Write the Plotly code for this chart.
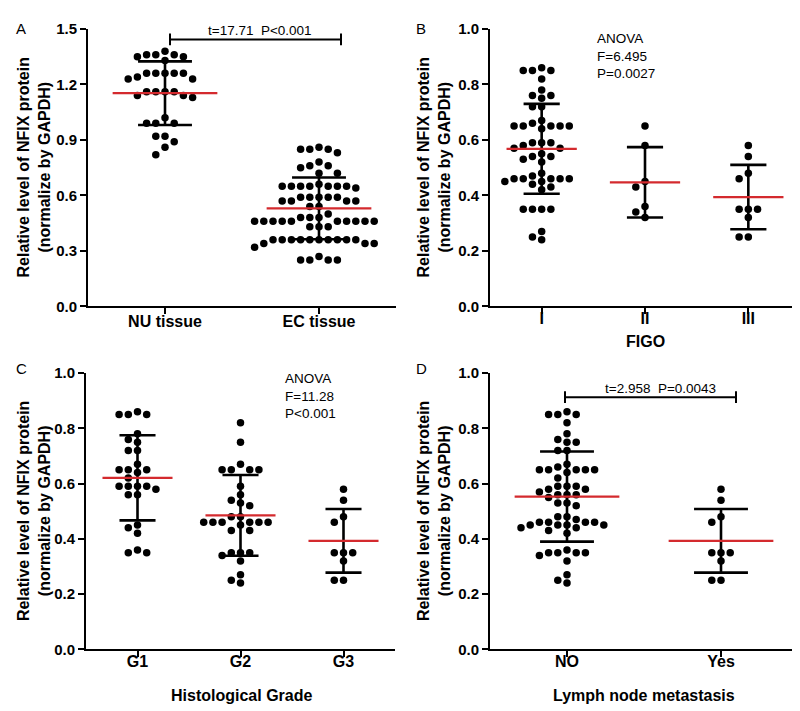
import numpy as np
import plotly.graph_objects as go

# ---------------- data ----------------
tissue_labels = ["NU tissue", "EC tissue"]
nu_tissue = [1.38, 1.36, 1.36, 1.36, 1.35, 1.35, 1.33, 1.26, 1.26, 1.26, 1.26, 1.26,
             1.24, 1.23, 1.23, 1.16, 1.16, 1.16, 1.16, 1.14, 1.14, 1.13, 1.02,
             0.99, 0.99, 0.99, 0.92, 0.92, 0.89, 0.86, 0.82]
ec_tissue = [0.86, 0.85, 0.85, 0.85, 0.83, 0.78, 0.76, 0.76, 0.75, 0.72, 0.72, 0.66,
             0.65, 0.65, 0.65, 0.65, 0.65, 0.65, 0.65, 0.64,
             0.59, 0.59, 0.59, 0.59, 0.59, 0.57, 0.57, 0.57, 0.57, 0.54, 0.54, 0.50,
             0.48, 0.48, 0.48, 0.46, 0.46, 0.46, 0.46, 0.46, 0.46, 0.46, 0.46, 0.46, 0.46,
             0.43, 0.43, 0.43, 0.36, 0.36, 0.36, 0.36, 0.36, 0.36, 0.36, 0.36, 0.36, 0.36,
             0.34, 0.34, 0.34, 0.32, 0.27, 0.25, 0.25, 0.25, 0.25]
tissue_mean = [1.153, 0.530]
tissue_sd = [0.172, 0.167]

figo_labels = ["I", "II", "III"]
figo_I = [0.86, 0.85, 0.85, 0.85, 0.82, 0.78, 0.76, 0.76, 0.75, 0.72, 0.72, 0.67, 0.66,
          0.65, 0.65, 0.65, 0.65, 0.65, 0.64, 0.59, 0.59, 0.59, 0.58, 0.57, 0.57, 0.55,
          0.54, 0.54, 0.53, 0.52, 0.48, 0.47, 0.46, 0.46, 0.46, 0.46, 0.46, 0.45, 0.45,
          0.44, 0.43, 0.42, 0.35, 0.35, 0.35, 0.35, 0.27, 0.25, 0.24]
figo_II = [0.65, 0.58, 0.45, 0.43, 0.36, 0.34, 0.32]
figo_III = [0.58, 0.54, 0.48, 0.46, 0.35, 0.35, 0.35, 0.32, 0.25, 0.25]
figo_mean = [0.568, 0.447, 0.394]
figo_sd = [0.162, 0.127, 0.116]

grade_labels = ["G1", "G2", "G3"]
grade_G1 = [0.86, 0.85, 0.85, 0.85, 0.78, 0.76, 0.75, 0.72, 0.72, 0.67, 0.65, 0.65, 0.65,
            0.64, 0.62, 0.59, 0.59, 0.59, 0.59, 0.58, 0.56, 0.56, 0.45, 0.44, 0.42,
            0.36, 0.35, 0.35]
grade_G2 = [0.82, 0.75, 0.67, 0.65, 0.65, 0.65, 0.65, 0.59, 0.56, 0.54, 0.53, 0.52,
            0.48, 0.48, 0.46, 0.46, 0.46, 0.46, 0.46, 0.46, 0.45, 0.43, 0.43,
            0.35, 0.35, 0.35, 0.34, 0.32, 0.27, 0.25, 0.24]
grade_G3 = [0.58, 0.54, 0.48, 0.46, 0.35, 0.35, 0.35, 0.32, 0.25, 0.25]
grade_mean = [0.621, 0.485, 0.393]
grade_sd = [0.154, 0.146, 0.115]

lymph_labels = ["NO", "Yes"]
lymph_no = [0.86, 0.85, 0.85, 0.85, 0.82, 0.78, 0.76, 0.75, 0.75, 0.72, 0.72, 0.67, 0.66,
            0.65, 0.65, 0.65, 0.65, 0.65, 0.64, 0.62, 0.59, 0.59, 0.59, 0.58, 0.58, 0.57,
            0.56, 0.56, 0.56, 0.55, 0.53, 0.53, 0.52, 0.48, 0.48, 0.47, 0.46, 0.46, 0.46,
            0.46, 0.45, 0.45, 0.45, 0.45, 0.44, 0.44, 0.43, 0.42, 0.36, 0.35, 0.35, 0.35,
            0.35, 0.34, 0.32, 0.27, 0.25, 0.24]
lymph_yes = [0.58, 0.54, 0.48, 0.46, 0.35, 0.35, 0.35, 0.32, 0.25, 0.25]
lymph_mean = [0.553, 0.393]
lymph_sd = [0.163, 0.115]

y_title = "Relative level of NFIX protein<br>(normalize by GAPDH)"

# ---------------- layout geometry ----------------
W, H = 800, 711
def PX(px): return px / W
def PY(py): return 1 - py / H

RED = "#d42a2e"
FONT = "Arial, Liberation Sans, sans-serif"

fig = go.Figure()

def swarm(values, ppu_x, ppu_y, D=7.6, step=9.2):
    vals = np.asarray(values, float)
    order = np.argsort(-vals, kind="stable")
    placed = []
    off = np.zeros(len(vals))
    cands = [0]
    for k in range(1, 30):
        cands += [-k, k]
    for i in order:
        yp = vals[i] * ppu_y
        for k in cands:
            xp = k * step
            if all((xp - a) ** 2 + (yp - b) ** 2 >= D * D for a, b in placed):
                break
        placed.append((xp, yp))
        off[i] = xp / ppu_x
    return off

def add_panel(xa, ya, groups, means, sds, ppu_x, ppu_y):
    for gi, vals in enumerate(groups):
        off = swarm(vals, ppu_x, ppu_y)
        fig.add_trace(go.Scatter(x=gi + off, y=vals, mode="markers", xaxis=xa, yaxis=ya,
                                 marker=dict(color="black", size=7.5), showlegend=False,
                                 hoverinfo="skip", cliponaxis=False))
    for gi, (m, s) in enumerate(zip(means, sds)):
        c = 0.175
        fig.add_trace(go.Scatter(
            x=[gi, gi, None, gi - c, gi + c, None, gi - c, gi + c],
            y=[m - s, m + s, None, m + s, m + s, None, m - s, m - s],
            mode="lines", line=dict(color="black", width=2.6), xaxis=xa, yaxis=ya,
            showlegend=False, hoverinfo="skip", cliponaxis=False))
    for gi, m in enumerate(means):
        fig.add_trace(go.Scatter(x=[gi - 0.34, gi + 0.34], y=[m, m], mode="lines",
                                 line=dict(color=RED, width=2.2), xaxis=xa, yaxis=ya,
                                 showlegend=False, hoverinfo="skip", cliponaxis=False))

add_panel("x", "y", [nu_tissue, ec_tissue], tissue_mean, tissue_sd, 154, 284 / 1.5)
add_panel("x2", "y2", [figo_I, figo_II, figo_III], figo_mean, figo_sd, 103.3, 284)
add_panel("x3", "y3", [grade_G1, grade_G2, grade_G3], grade_mean, grade_sd, 103, 283)
add_panel("x4", "y4", [lymph_no, lymph_yes], lymph_mean, lymph_sd, 154, 283)

def xax(dom, labels, yname, standoff):
    n = len(labels)
    return dict(domain=[PX(dom[0]), PX(dom[1])], range=[-0.5, n - 0.5], anchor=yname,
                tickvals=list(range(n)), ticktext=labels, showline=True, linecolor="black",
                linewidth=2, ticks="outside", ticklen=6, tickwidth=2, tickcolor="black",
                showgrid=False, zeroline=False, ticklabelstandoff=standoff,
                tickfont=dict(family=FONT, size=16, color="black", weight="bold"))

def yax(dom, top, step, xname):
    tv = [round(i * step, 2) for i in range(int(round(top / step)) + 1)]
    return dict(domain=[PY(dom[1]), PY(dom[0])], range=[0, top * 1.001], anchor=xname,
                tickvals=tv, ticktext=[f"{v:.1f}" for v in tv], showline=True,
                linecolor="black", linewidth=2, ticks="outside", ticklen=6, tickwidth=2,
                tickcolor="black", showgrid=False, zeroline=False,
                tickfont=dict(family=FONT, size=15, color="black", weight="bold"))

fig.update_layout(
    width=W, height=H, margin=dict(l=0, r=0, t=0, b=0),
    paper_bgcolor="white", plot_bgcolor="white", showlegend=False,
    xaxis=xax((80, 388), tissue_labels, "y", -7),
    yaxis=yax((13, 297), 1.5, 0.3, "x"),
    xaxis2=xax((482, 792), figo_labels, "y2", -10),
    yaxis2=yax((13, 297), 1.0, 0.2, "x2"),
    xaxis3=xax((78, 387), grade_labels, "y3", -10),
    yaxis3=yax((365, 648), 1.0, 0.2, "x3"),
    xaxis4=xax((482, 790), lymph_labels, "y4", -10),
    yaxis4=yax((365, 648), 1.0, 0.2, "x4"),
)

ann = []
def text(px, py, s, size=14, bold=False, align="center", xanchor="center", angle=0):
    ann.append(dict(x=PX(px), y=PY(py), xref="paper", yref="paper", text=s,
                    showarrow=False, xanchor=xanchor, yanchor="middle", align=align,
                    textangle=angle,
                    font=dict(family=FONT, size=size, color="black",
                              weight="bold" if bold else "normal")))

# panel letters
text(13, 13, "A", 15); text(413, 13, "B", 15); text(13, 361, "C", 15); text(413, 361, "D", 15)
# y titles
for cx, cy in [(26, 155), (426, 155), (26, 506.5), (426, 506.5)]:
    text(cx, cy, y_title, 16, True, angle=-90)
# x titles
text(637, 333, "FIGO", 16, True)
text(233, 695, "Histological Grade", 16, True)
text(636, 695, "Lymph node metastasis", 16, True)
# statistics
text(252, 15, "t=17.71\u00a0\u00a0P&lt;0.001", 13.5)
text(652, 381, "t=2.958\u00a0\u00a0P=0.0043", 13.5)
text(587, 41, "ANOVA<br>F=6.495<br>P=0.0027", 13.5, align="left", xanchor="left")
text(275, 389, "ANOVA<br>F=11.28<br>P&lt;0.001", 13.5, align="left", xanchor="left")
fig.update_layout(annotations=ann)

shapes = []
def bracket(x0, x1, y, h=6):
    for a in [(x0, y, x1, y), (x0, y - h, x0, y + h), (x1, y - h, x1, y + h)]:
        shapes.append(dict(type="line", xref="paper", yref="paper",
                           x0=PX(a[0]), y0=PY(a[1]), x1=PX(a[2]), y1=PY(a[3]),
                           line=dict(color="black", width=2)))
bracket(162, 333, 24)
bracket(557, 728, 390)
fig.update_layout(shapes=shapes)

fig.write_html("out.html")
